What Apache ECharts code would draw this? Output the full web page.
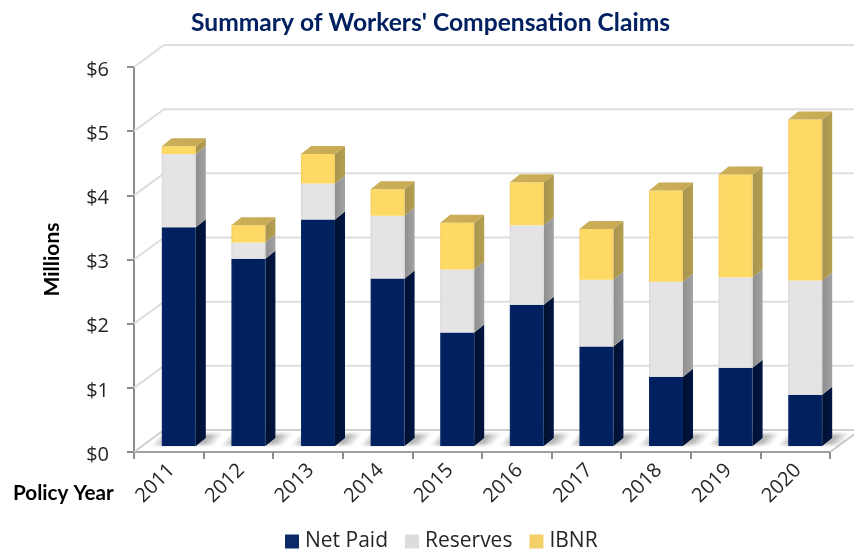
<!DOCTYPE html>
<html><head><meta charset="utf-8">
<style>html,body{margin:0;padding:0;background:#fff}#c{width:854px;height:549px}</style>
<script src="https://cdn.jsdelivr.net/npm/echarts@6/dist/echarts.min.js"></script>
</head><body><div id="c"></div>
<script>
const categories = ['2011','2012','2013','2014','2015','2016','2017','2018','2019','2020'];
const netPaid  = [3.41,2.92,3.53,2.61,1.77,2.20,1.55,1.08,1.22,0.80];
const reserves = [1.14,0.25,0.56,0.98,0.98,1.24,1.04,1.48,1.41,1.78];
const ibnr     = [0.12,0.27,0.46,0.41,0.73,0.67,0.79,1.42,1.60,2.51];
const yTicks   = [0,1,2,3,4,5,6];
const title = "Summary of Workers' Compensation Claims";

const WALL_DX = 30, WALL_DY = 22;
const BAR_X = 10, BAR_Y = 6, BAR_HALF = 17, SIDE_DX = 10, SIDE_DY = 8;

function h(stops){return {type:'linear',x:0,y:0,x2:1,y2:0,colorStops:stops.map(s=>({offset:s[0],color:s[1]}))};}
function face(c0,c1){return h([[0,c0],[0.06,c1],[0.94,c1],[1,c0]]);}

const palette = {
  net:{front:face('#0a2a68','#002060'),side:h([[0,'#00112f'],[1,'#001542']]),top:'#00184a',legend:'#0d2a68'},
  res:{front:face('#d8d6d7','#e5e3e4'),side:h([[0,'#8f8f8f'],[1,'#a2a2a2']]),top:'#a8a8a8',legend:'#dcdcdc'},
  ib:{front:face('#f2cd5f','#ffd966'),side:h([[0,'#a89450'],[1,'#b49e50']]),top:h([[0,'#cbaf5a'],[1,'#c8aa52']]),legend:'#f3d069'}
};

function segment(key, isTop){
  const p = palette[key];
  return function(params, api){
    const i = api.value(0), lo = api.value(1), hi = api.value(2);
    const cx = api.coord([i,0])[0] + BAR_X;
    const y0 = api.coord([i,lo])[1] - BAR_Y, y1 = api.coord([i,hi])[1] - BAR_Y;
    const l = cx-BAR_HALF, r = cx+BAR_HALF;
    const kids = [
      {type:'polygon',shape:{points:[[r,y0],[r+SIDE_DX,y0-SIDE_DY],[r+SIDE_DX,y1-SIDE_DY],[r,y1]]},style:{fill:p.side}},
      {type:'rect',shape:{x:l,y:y1,width:r-l,height:y0-y1},style:{fill:p.front}}
    ];
    if(isTop){
      kids.push({type:'polygon',shape:{points:[[l,y1],[l+SIDE_DX,y1-SIDE_DY],[r+SIDE_DX,y1-SIDE_DY],[r,y1]]},style:{fill:p.top}});
    }
    return {type:'group',children:kids};
  };
}

let acc = categories.map(()=>0);
function stackData(vals){
  const out = vals.map((v,i)=>[i,acc[i],acc[i]+v]);
  acc = acc.map((a,i)=>a+vals[i]);
  return out;
}
const netData = stackData(netPaid), resData = stackData(reserves), ibData = stackData(ibnr);

function bar(name,key,data,isTop){
  return {name,type:'custom',data,z:5,renderItem:segment(key,isTop),
    encode:{x:0,y:[1,2]},itemStyle:{color:palette[key].legend},
    silent:true,animation:false};
}

const chart = echarts.init(document.getElementById('c'),null,{renderer:'canvas'});
chart.setOption({
  animation:false,
  backgroundColor:'#fff',
  title:{text:title,left:186,top:6,textStyle:{fontFamily:'Lato',fontWeight:'bold',fontSize:24.6,color:'#002060'}},
  grid:{left:134,right:24,top:67,bottom:97},
  legend:{data:['Net Paid','Reserves','IBNR'],left:280,top:526,itemWidth:14,itemHeight:14,itemGap:17,icon:'rect',
    textStyle:{fontFamily:'Open Sans',fontSize:21,color:'#262626',padding:[0,0,0,1]}},
  xAxis:{type:'category',data:categories,boundaryGap:true,
    axisLine:{lineStyle:{color:'#a0a0a0',width:2}},
    axisTick:{show:true,length:7,alignWithLabel:false,lineStyle:{color:'#8c8c8c',width:2}},
    axisLabel:{rotate:45,margin:18,fontFamily:'Open Sans',fontSize:20,color:'#262626',interval:0,padding:[0,-4,0,0]},
    splitLine:{show:false}},
  yAxis:{type:'value',min:0,max:6,interval:1,
    name:'Millions',nameLocation:'middle',nameRotate:90,nameGap:65,
    nameTextStyle:{fontFamily:'Lato',fontWeight:'bold',fontSize:21,color:'#000',padding:[0,0,6,0]},
    axisLine:{show:true,lineStyle:{color:'#8c8c8c',width:2}},
    axisTick:{show:true,length:7,lineStyle:{color:'#8c8c8c',width:2}},
    axisLabel:{formatter:v=>'$'+v,margin:25,fontFamily:'Open Sans',fontSize:20,color:'#262626',verticalAlign:'top',lineHeight:20,padding:[-7,0,0,0]},
    splitLine:{show:false}},
  graphic:[{type:'text',left:13,top:483,style:{text:'Policy Year',font:'bold 20.7px Lato',fill:'#000'}}],
  series:[
    {name:'wall',type:'custom',data:yTicks.map(v=>[v]),z:1,silent:true,encode:{y:0},
      renderItem(params,api){
        const cs = params.coordSys, y = api.coord([0,api.value(0)])[1];
        const x0 = cs.x, x1 = cs.x+cs.width;
        const floor = api.value(0)===0;
        const stroke = floor ? '#cfcfcf' : '#dedede';
        const kids = [{type:'polyline',shape:{points:[[x0,y],[x0+WALL_DX,y-WALL_DY],[x1+WALL_DX,y-WALL_DY]]},style:{stroke,lineWidth:2,fill:null}}];
        if(floor){
          kids.push({type:'polyline',shape:{points:[[x1,y],[x1+WALL_DX,y-WALL_DY]]},style:{stroke:'#c8c8c8',lineWidth:2,fill:null}});
        }
        return {type:'group',children:kids};
      }},
    {name:'shadow',type:'custom',data:categories.map((c,i)=>[i]),z:2,silent:true,encode:{x:0},
      renderItem(params,api){
        const cx = api.coord([api.value(0),0])[0]+BAR_X, y = api.coord([api.value(0),0])[1];
        const l = cx-BAR_HALF-12, w = 12+2*BAR_HALF+18;
        const kids = [];
        const ROWS = 15;
        for(let d=0;d<ROWS;d++){
          const t = d/(ROWS-1);
          const a = (0.6*Math.min(1,Math.min(t,1-t)*3+0.2)).toFixed(3);
          const c0 = 'rgba(140,140,140,'+a+')', c1 = 'rgba(140,140,140,0)';
          kids.push({type:'rect',shape:{x:l+d*0.8,y:y-6-d,width:w,height:1},
            style:{fill:h([[0,c1],[10/w,c0],[(w-12)/w,c0],[1,c1]])}});
        }
        return {type:'group',children:kids};
      }},
    bar('Net Paid','net',netData,false),
    bar('Reserves','res',resData,false),
    bar('IBNR','ib',ibData,true)
  ]
});
</script></body></html>
